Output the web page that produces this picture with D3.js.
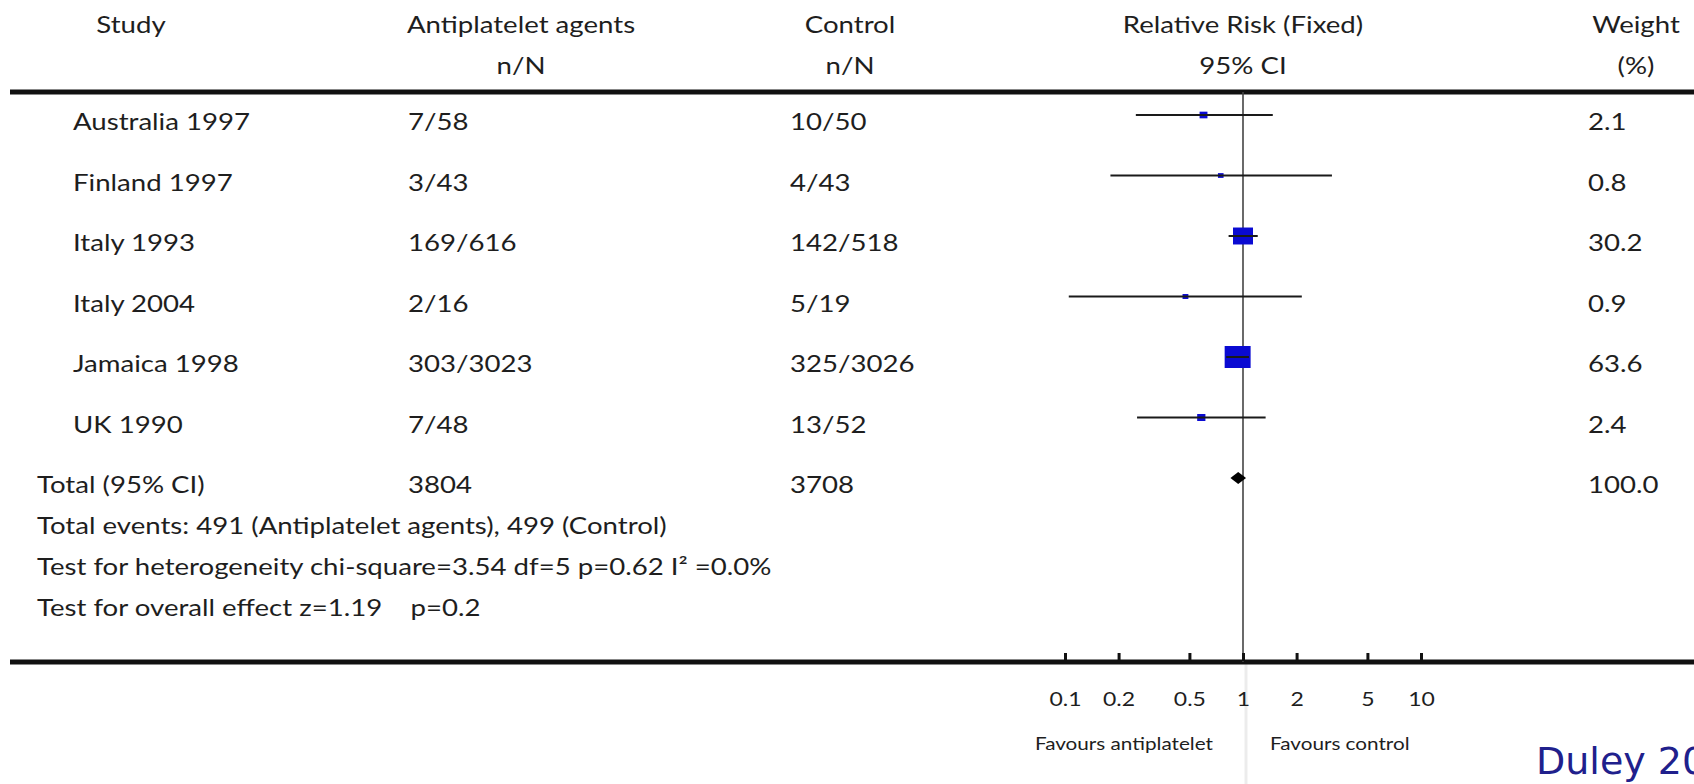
<!DOCTYPE html>
<html>
<head>
<meta charset="utf-8">
<script src="https://cdn.jsdelivr.net/npm/d3@7/dist/d3.min.js"></script>
<style>
  html, body { margin: 0; padding: 0; background: #fff; }
  svg { display: block; }
</style>
</head>
<body>
<script>
// ---- data ----
const studies   = ["Australia 1997", "Finland 1997", "Italy 1993", "Italy 2004", "Jamaica 1998", "UK 1990"];
const treatNN   = ["7/58", "3/43", "169/616", "2/16", "303/3023", "7/48"];
const controlNN = ["10/50", "4/43", "142/518", "5/19", "325/3026", "13/52"];
const rr        = [0.60, 0.75, 1.00, 0.475, 0.933, 0.583];
const ciLow     = [0.25, 0.18, 0.83, 0.105, 0.805, 0.254];
const ciHigh    = [1.47, 3.16, 1.21, 2.14, 1.08, 1.34];
const weights   = ["2.1", "0.8", "30.2", "0.9", "63.6", "2.4"];
const totalLabel = "Total (95% CI)";
const totalTreat = "3804";
const totalControl = "3708";
const totalRR = [0.94, 0.85, 1.04];   // estimate, low, high
const totalWeight = "100.0";
const tickValues = [0.1, 0.2, 0.5, 1, 2, 5, 10];
const tickLabels = ["0.1", "0.2", "0.5", "1", "2", "5", "10"];
const footnotes = [
  "Total events: 491 (Antiplatelet agents), 499 (Control)",
  "Test for heterogeneity chi-square=3.54 df=5 p=0.62 I\u00B2 =0.0%",
  "Test for overall effect z=1.19    p=0.2"
];
const headers1 = ["Study", "Antiplatelet agents", "Control", "Relative Risk (Fixed)", "Weight"];
const headers2 = ["", "n/N", "n/N", "95% CI", "(%)"];
const favours = ["Favours antiplatelet", "Favours control"];
const citation = "Duley 2007";

// ---- layout ----
const W = 1694, H = 784;
const SX = 1.15;              // horizontal stretch of the source image
const FONT = "Lato, 'Open Sans', sans-serif";
const TXT = "#1e1e1e";

const svg = d3.select("body").append("svg").attr("width", W).attr("height", H);
svg.append("rect").attr("width", W).attr("height", H).attr("fill", "#fff");

const x = d3.scaleLog().domain([0.1, 10]).range([1065, 1421]);
const rowY = d3.scaleLinear().domain([0, 6]).range([115, 478]);
const size = d3.scalePow().exponent(0.35).domain([0, 63.6]).range([0, 22]);
const axisY = 662, topRule = 92;

function txt(str, tx, ty, opt = {}) {
  return svg.append("text")
    .attr("transform", `translate(${tx},${ty}) scale(${opt.sx || SX},1)`)
    .attr("font-family", opt.font || FONT)
    .attr("font-size", opt.size || 24)
    .attr("fill", opt.fill || TXT)
    .attr("text-anchor", opt.anchor || "start")
    .attr("xml:space", "preserve")
    .style("white-space", "pre")
    .text(str);
}

// light continuation of the null line below the axis
svg.append("line").attr("x1", x(1) + 3).attr("x2", x(1) + 3).attr("y1", axisY).attr("y2", H)
  .attr("stroke", "#ececec").attr("stroke-width", 3);

// rules
svg.append("line").attr("x1", 10).attr("x2", W).attr("y1", topRule).attr("y2", topRule)
  .attr("stroke", "#111").attr("stroke-width", 5);
svg.append("line").attr("x1", 10).attr("x2", W).attr("y1", axisY).attr("y2", axisY)
  .attr("stroke", "#111").attr("stroke-width", 5);

// null line
svg.append("line").attr("x1", x(1)).attr("x2", x(1)).attr("y1", topRule).attr("y2", axisY)
  .attr("stroke", "#444").attr("stroke-width", 1.6);

// headers
const hx = [131, 521, 850, x(1), 1636];
headers1.forEach((h, i) => txt(h, hx[i], 33, { anchor: "middle" }));
headers2.forEach((h, i) => { if (h) txt(h, hx[i], 74, { anchor: "middle" }); });

// study rows
const colStudy = 73, colTreat = 408, colCtrl = 790, colW = 1588;
studies.forEach((s, i) => {
  const y = rowY(i) + 15;
  txt(s, colStudy, y);
  txt(treatNN[i], colTreat, y);
  txt(controlNN[i], colCtrl, y);
  txt(weights[i], colW, y);
});
// total row
txt(totalLabel, 37, rowY(6) + 15);
txt(totalTreat, colTreat, rowY(6) + 15);
txt(totalControl, colCtrl, rowY(6) + 15);
txt(totalWeight, colW, rowY(6) + 15);

// footnotes
footnotes.forEach((f, i) => txt(f, 37, rowY(6) + 15 + 41 * (i + 1)));

// markers
const g = svg.append("g");
g.selectAll("rect.box").data(studies).join("rect").attr("class", "box")
  .attr("x", (d, i) => x(rr[i]) - size(+weights[i]) * 1.18 / 2)
  .attr("y", (d, i) => rowY(i) - size(+weights[i]) / 2)
  .attr("width", (d, i) => size(+weights[i]) * 1.18)
  .attr("height", (d, i) => size(+weights[i]))
  .attr("fill", "#0a0ad2");
g.selectAll("line.ci").data(studies).join("line").attr("class", "ci")
  .attr("x1", (d, i) => x(ciLow[i])).attr("x2", (d, i) => x(ciHigh[i]))
  .attr("y1", (d, i) => rowY(i)).attr("y2", (d, i) => rowY(i))
  .attr("stroke", "#1a1a1a").attr("stroke-width", 2);

// total diamond
const ty = rowY(6);
g.append("path")
  .attr("d", `M${x(totalRR[1])},${ty} L${x(totalRR[0])},${ty - 6} L${x(totalRR[2])},${ty} L${x(totalRR[0])},${ty + 6} Z`)
  .attr("fill", "#000");

// axis
const axis = d3.axisBottom(x).tickValues(tickValues)
  .tickFormat((d, i) => tickLabels[i]).tickSize(-8).tickSizeOuter(0).tickPadding(31);
const ag = svg.append("g").attr("transform", `translate(0,${axisY - 1})`).call(axis);
ag.select(".domain").remove();
ag.selectAll(".tick line").attr("stroke", "#111").attr("stroke-width", 3);
ag.selectAll(".tick text").attr("font-family", FONT).attr("font-size", 20)
  .attr("fill", TXT).attr("transform", `scale(${SX},1)`);

// favours labels
txt(favours[0], x(1) - 30, 750, { anchor: "end", size: 18 });
txt(favours[1], x(1) + 27, 750, { size: 18 });

// citation
txt(citation, 1536, 774, { font: "'DejaVu Sans', Verdana, sans-serif", size: 38, fill: "#20208c", sx: 1.0 });
</script>
</body>
</html>
